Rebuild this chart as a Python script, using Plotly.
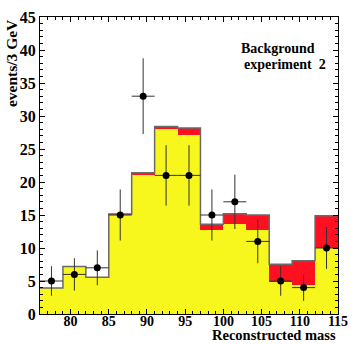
import numpy as np
import plotly.graph_objects as go

# Data
bin_edges = [76, 79, 82, 85, 88, 91, 94, 97, 100, 103, 106, 109, 112, 115]
bin_centers = [77.5, 80.5, 83.5, 86.5, 89.5, 92.5, 95.5, 98.5, 101.5, 104.5, 107.5, 110.5, 113.5]
yellow_bg = [3.95, 7.2, 5.55, 15.0, 21.2, 28.0, 27.1, 12.8, 13.6, 12.7, 4.8, 4.45, 9.95]
red_bg = [0.0, 0.0, 0.0, 0.15, 0.2, 0.4, 1.1, 0.8, 1.6, 2.3, 2.75, 3.6, 4.95]
data_counts = [5, 6, 7, 15, 33, 21, 21, 15, 17, 11, 5, 4, 10]
x_ticks = [80, 85, 90, 95, 100, 105, 110, 115]
y_ticks = [0, 5, 10, 15, 20, 25, 30, 35, 40, 45]

totals = [a + b for a, b in zip(yellow_bg, red_bg)]
data_err = [float(np.sqrt(n)) for n in data_counts]

FONT = "Liberation Serif"

fig = go.Figure()
fig.add_trace(go.Bar(x=bin_centers, y=yellow_bg, width=3,
                     marker=dict(color="#F7F71E", line=dict(width=0)),
                     showlegend=False))
fig.add_trace(go.Bar(x=bin_centers, y=red_bg, width=3,
                     marker=dict(color="#FF1020", line=dict(width=0)),
                     showlegend=False))
fig.add_trace(go.Scatter(x=bin_edges, y=totals + [totals[-1]], mode="lines",
                         line=dict(shape="hv", color="#6a6a6a", width=1.5),
                         showlegend=False, hoverinfo="skip"))
fig.add_trace(go.Scatter(x=bin_centers, y=data_counts, mode="markers",
                         marker=dict(color="black", size=7),
                         error_y=dict(type="data", array=data_err, color="#333333",
                                      thickness=1, width=0),
                         error_x=dict(type="constant", value=1.5, color="#333333",
                                      thickness=1, width=0),
                         showlegend=False))

fig.update_layout(
    width=357, height=344,
    margin=dict(l=40, r=11, t=9, b=30),
    barmode="stack", bargap=0,
    plot_bgcolor="white", paper_bgcolor="white",
    font=dict(family=FONT, size=14, color="black"),
)
fig.update_xaxes(
    range=[76, 115], tickvals=x_ticks, ticks="inside", ticklen=5, tickcolor="black",
    showline=True, linecolor="black", linewidth=1, mirror="allticks",
    showgrid=False, zeroline=False, ticklabelstandoff=-6,
    tickfont=dict(family=FONT, size=14, weight="bold"),
    minor=dict(dtick=1, tick0=76, ticks="inside", ticklen=3, tickcolor="black", showgrid=False),
)
fig.update_yaxes(
    range=[0, 45], tickvals=y_ticks, ticks="inside", ticklen=5, tickcolor="black",
    showline=True, linecolor="black", linewidth=1, mirror="allticks",
    showgrid=False, zeroline=False,
    tickfont=dict(family=FONT, size=16, weight="bold"),
    minor=dict(dtick=1, tick0=0, ticks="inside", ticklen=3, tickcolor="black", showgrid=False),
)

fig.add_annotation(text="events/3 GeV", textangle=-90, xref="paper", yref="paper",
                   x=-0.097, y=1.0, xanchor="center", yanchor="top", showarrow=False,
                   font=dict(family=FONT, size=15.5, weight="bold"))
fig.add_annotation(text="Reconstructed mass", xref="paper", yref="paper",
                   x=1.0, y=-0.106, xanchor="right", yanchor="bottom", showarrow=False,
                   font=dict(family=FONT, size=14.5, weight="bold"))
fig.add_annotation(text="Background", xref="x", yref="y",
                   x=102.0, y=40.3, xanchor="left", yanchor="middle", showarrow=False,
                   font=dict(family=FONT, size=14, weight="bold"))
fig.add_annotation(text="experiment&nbsp;&nbsp;2", xref="x", yref="y",
                   x=102.5, y=37.8, xanchor="left", yanchor="middle", showarrow=False,
                   font=dict(family=FONT, size=14, weight="bold"))

fig.write_html("out.html", config={"displayModeBar": False},
               post_script="document.body.style.margin='0';")
